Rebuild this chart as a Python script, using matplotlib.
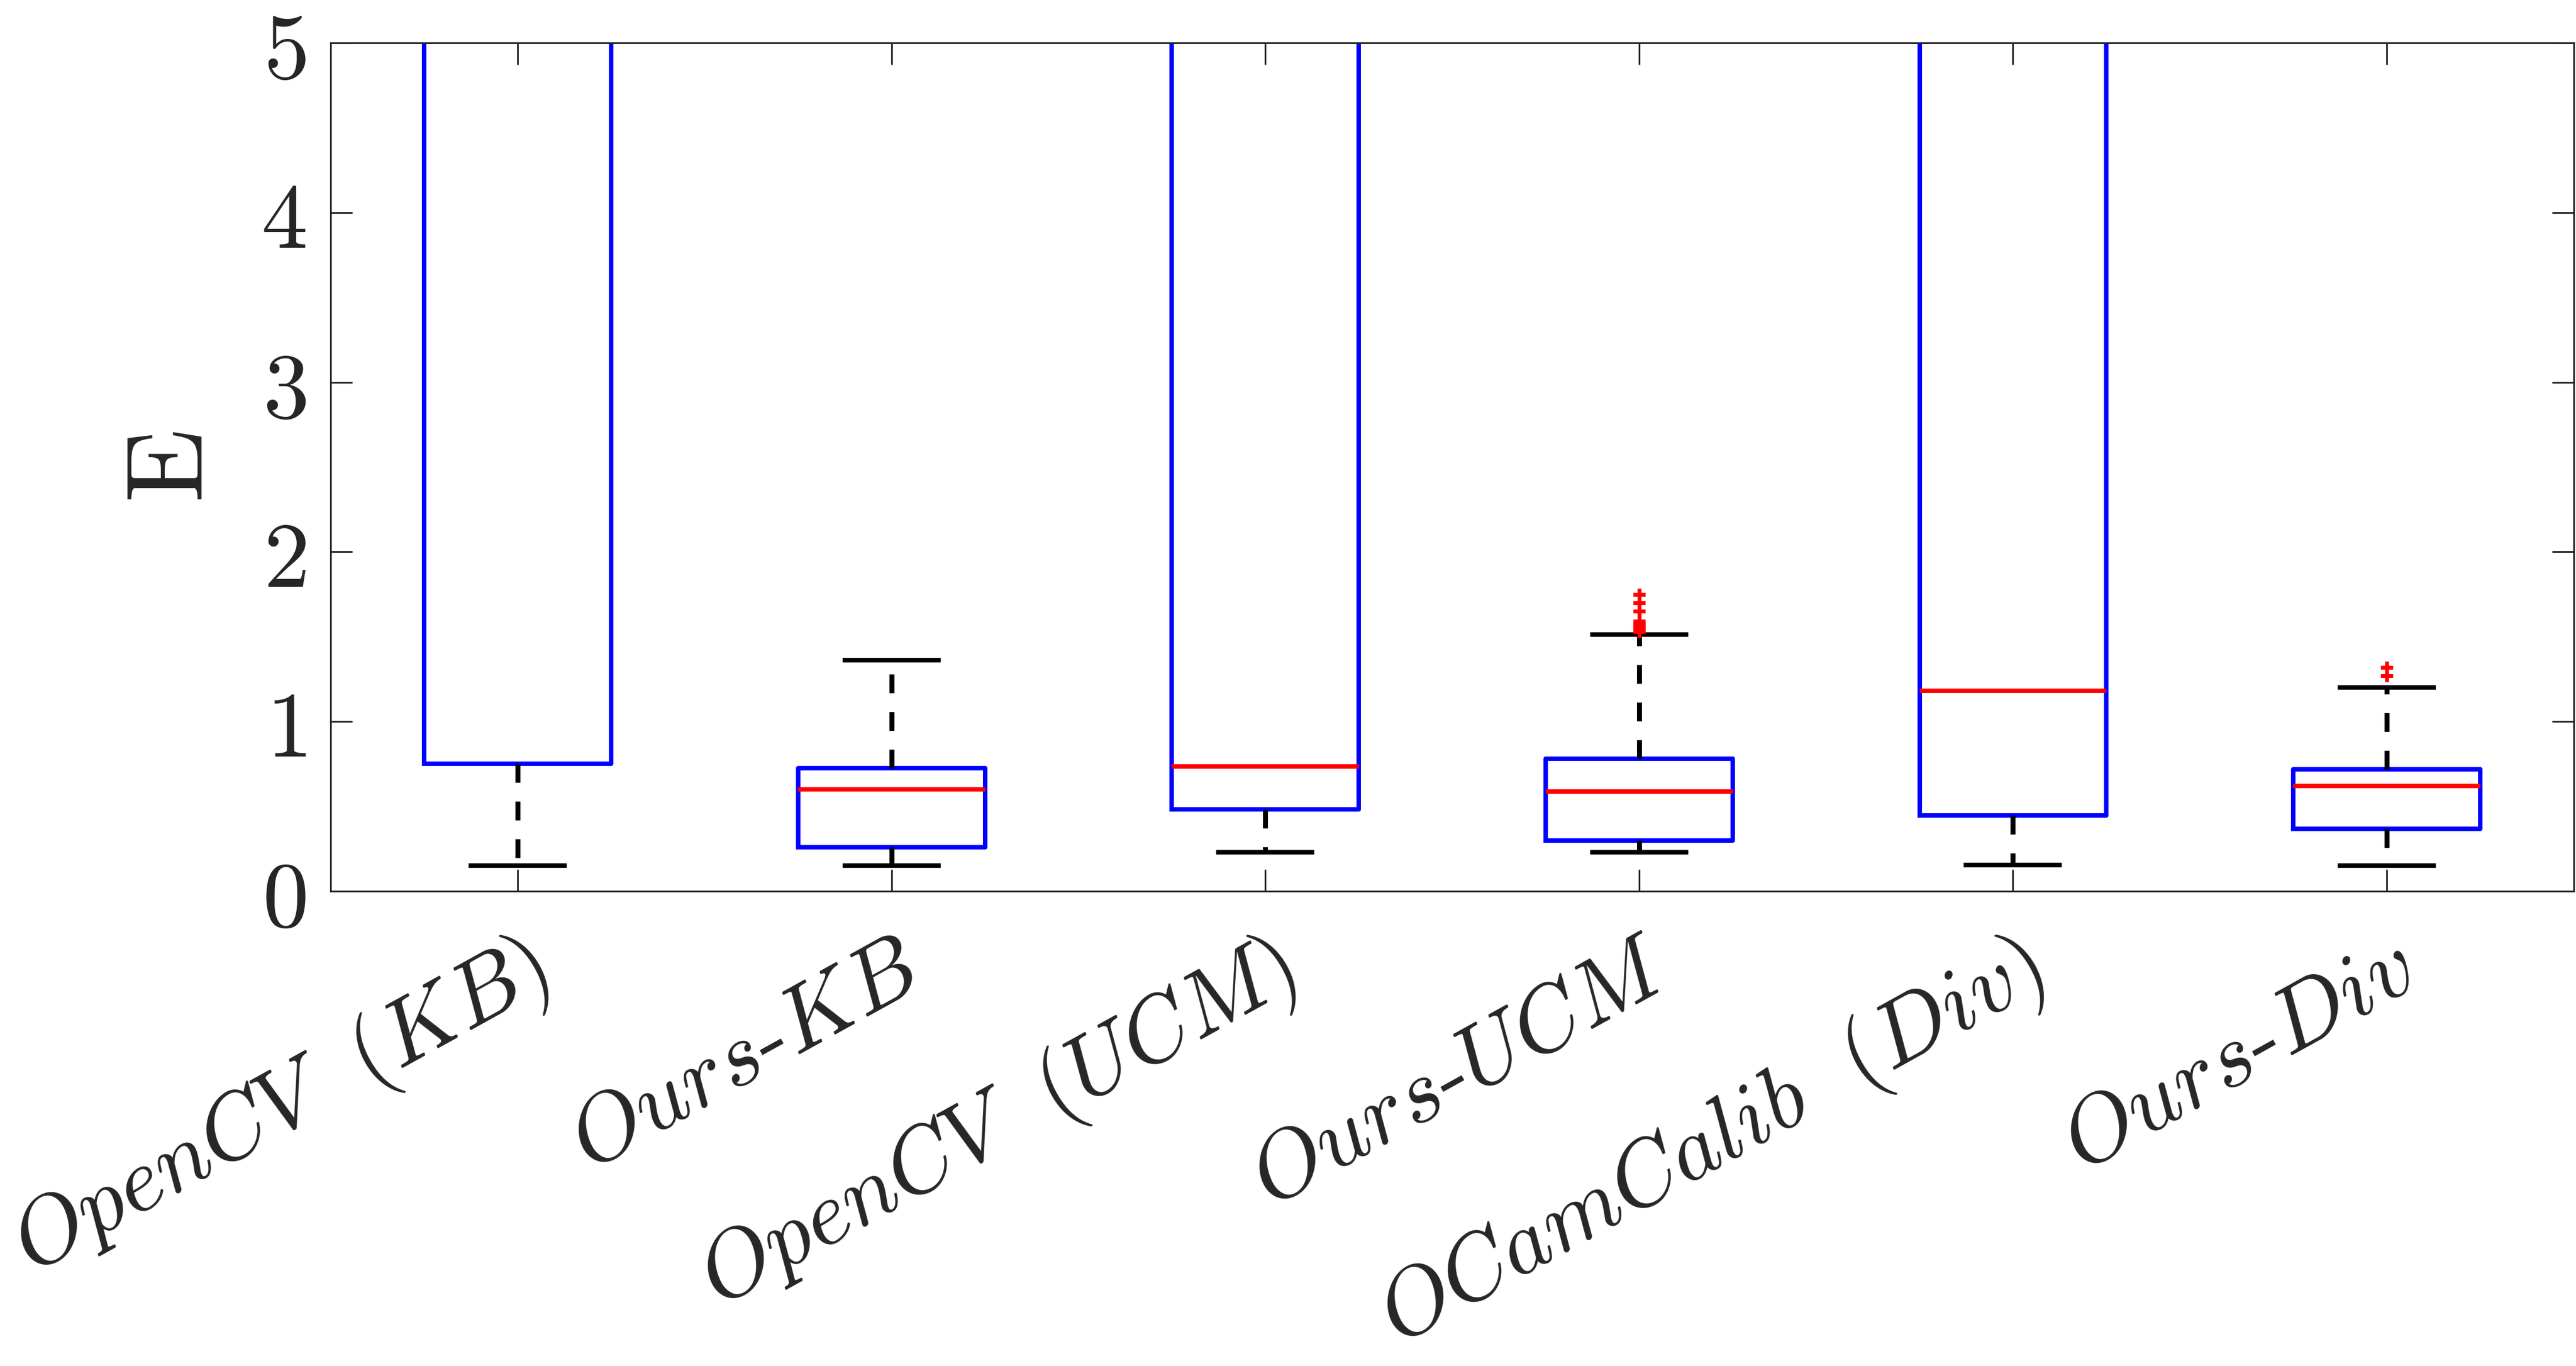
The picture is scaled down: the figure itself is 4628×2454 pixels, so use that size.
import matplotlib
matplotlib.use('Agg')
import matplotlib.pyplot as plt

plt.rcParams['mathtext.fontset'] = 'cm'
plt.rcParams['font.family'] = ['DejaVu Serif']

# method names (x tick labels, LaTeX style)
methods = [r'$OpenCV\ \ (KB)$', r'$Ours\text{-}KB$', r'$OpenCV\ \ (UCM)$',
           r'$Ours\text{-}UCM$', r'$OCamCalib\ \ (Div)$', r'$Ours\text{-}Div$']

# box statistics (values > 5 are off the plot, unknown)
q1 = [0.75, 0.26, 0.483, 0.30, 0.445, 0.367]
med = [5.6, 0.60, 0.734, 0.587, 1.18, 0.62]
q3 = [12.0, 0.724, 12.0, 0.782, 12.0, 0.72]
whislo = [0.152, 0.152, 0.231, 0.228, 0.155, 0.15]
whishi = [25.0, 1.362, 25.0, 1.511, 25.0, 1.20]
fliers = [[], [], [], [1.53, 1.545, 1.56, 1.575, 1.59, 1.65, 1.70, 1.75],
          [], [1.27, 1.32]]

yticks = [0, 1, 2, 3, 4, 5]
ytick_labels = ['$0$', '$1$', '$2$', '$3$', '$4$', '$5$']

stats = []
for i in range(len(methods)):
    stats.append(dict(q1=q1[i], med=med[i], q3=q3[i], whislo=whislo[i],
                      whishi=whishi[i], fliers=fliers[i]))

fig = plt.figure(figsize=(23.14, 12.27), dpi=200)
ax = fig.add_axes([0.1284, 0.3476, 0.9991 - 0.1284, 0.9686 - 0.3476])

ax.bxp(stats, positions=range(1, 7), widths=0.5, capwidths=0.25,
       showfliers=True,
       boxprops=dict(color='#0000ff', linewidth=2.9),
       medianprops=dict(color='#ff0000', linewidth=2.9),
       whiskerprops=dict(color='black', linewidth=3.2, linestyle=(0, (3.8, 3.8))),
       capprops=dict(color='black', linewidth=3.0),
       flierprops=dict(marker='+', markeredgecolor='#ff0000', markersize=8,
                       markeredgewidth=2.5, linestyle='none'))

ax.set_xlim(0.5, 6.5)
ax.set_ylim(0, 5)
ax.set_yticks(yticks)
ax.set_yticklabels(ytick_labels, fontsize=60, color='#262626')
ax.set_xticks(range(1, 7))
ax.set_xticklabels(methods, fontsize=59, color='#262626', rotation=29,
                   ha='right', va='top', rotation_mode='anchor')
ax.tick_params(direction='in', top=True, right=True, length=14, width=1.1,
               color='#262626')
ax.tick_params(axis='y', pad=16)
ax.tick_params(axis='x', pad=21)
for sp in ax.spines.values():
    sp.set_color('#262626')
    sp.set_linewidth(1.1)

ax.set_ylabel(r'$\mathrm{E}$', fontsize=70, color='#262626', labelpad=24)

fig.savefig('out.png', dpi=200)
